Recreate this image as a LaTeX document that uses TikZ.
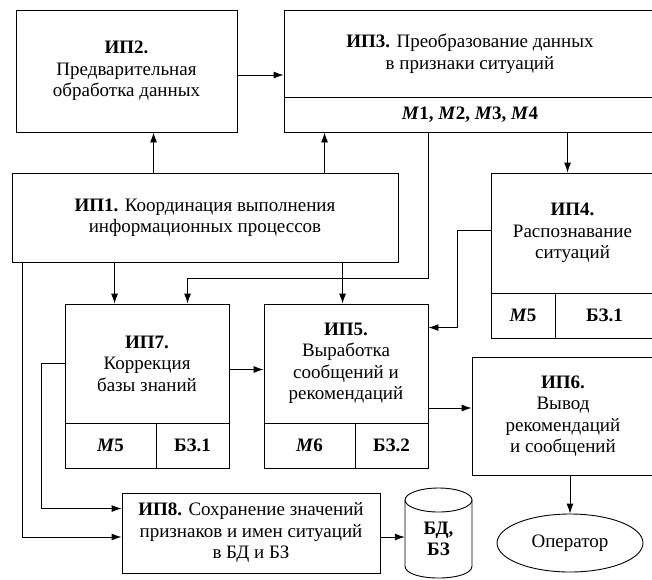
\documentclass[tikz,border=0pt]{standalone}
\usepackage{fontspec}
\setmainfont{Liberation Serif}
\usetikzlibrary{arrows.meta,shapes.geometric}

\tikzset{
  box/.style={draw, line width=0.9pt, inner sep=0pt, align=center},
  arr/.style={-{Latex[length=10pt,width=7pt]}, line width=0.9pt},
}

\begin{document}
\begin{tikzpicture}[x=1pt, y=-1pt, font=\fontsize{19pt}{21.5pt}\selectfont]

    \useasboundingbox (0,0) rectangle (652,579);
    \clip (0,0) rectangle (652,579);

    % BLOQUES SUPERIORES
    \node[box, minimum width=221, minimum height=122] (ip2) at (126.5,71)
        {\textbf{ИП2.}\\Предварительная\\обработка данных};
    \node[box, minimum width=372, minimum height=87] (ip3) at (470,53.5)
        {\textbf{ИП3.} Преобразование данных\\в признаки ситуаций};
    \node[box, minimum width=372, minimum height=35] (ip3m) at (470,114.5)
        {\textbf{\textit{M}1, \textit{M}2, \textit{M}3, \textit{M}4}};

    % COORDINACION
    \node[box, minimum width=386, minimum height=89] (ip1) at (205,217.5)
        {\textbf{ИП1.} Координация выполнения\\информационных процессов};

    % RECONOCIMIENTO
    \node[box, minimum width=163, minimum height=120] (ip4) at (572.5,233)
        {\textbf{ИП4.}\\Распознавание\\ситуаций};
    \node[box, minimum width=64, minimum height=45] (ip4m) at (523,315.5)
        {\textbf{\textit{M}5}};
    \node[box, minimum width=99, minimum height=45] (ip4b) at (604.5,315.5)
        {\textbf{БЗ.1}};

    % CORRECCION
    \node[box, minimum width=164, minimum height=119] (ip7) at (147,363.5)
        {\textbf{ИП7.}\\Коррекция\\базы знаний};
    \node[box, minimum width=91, minimum height=45] (ip7m) at (110.5,445.5)
        {\textbf{\textit{M}5}};
    \node[box, minimum width=73, minimum height=45] (ip7b) at (192.5,445.5)
        {\textbf{БЗ.1}};

    % ELABORACION
    \node[box, minimum width=164, minimum height=119] (ip5) at (346,363.5)
        {\textbf{ИП5.}\\Выработка\\сообщений и\\рекомендаций};
    \node[box, minimum width=91, minimum height=45] (ip5m) at (309.5,445.5)
        {\textbf{\textit{M}6}};
    \node[box, minimum width=73, minimum height=45] (ip5b) at (391.5,445.5)
        {\textbf{БЗ.2}};

    % SALIDA
    \node[box, minimum width=182, minimum height=118] (ip6) at (563,416)
        {\textbf{ИП6.}\\Вывод\\рекомендаций\\и сообщений};
    \node[draw, ellipse, line width=0.9pt, minimum width=146, minimum height=58] (oper) at (570,543)
        {Оператор};

    % ALMACENAMIENTO
    \node[box, minimum width=258, minimum height=80] (ip8) at (251,533)
        {\textbf{ИП8.} Сохранение значений\\признаков и имен ситуаций\\в БД и БЗ};
    \node[align=center, minimum width=67, minimum height=78, inner sep=0pt] (bd) at (438.5,539)
        {\textbf{БД,}\\\textbf{БЗ}};
    \draw[line width=0.9pt] (438.5,500) ellipse (33.5 and 12);
    \draw[line width=0.9pt] (405,500) -- (405,566)
        .. controls (405,582) and (472,582) .. (472,566) -- (472,500);

    % FLECHAS
    \draw[arr] ([yshift=-4pt]ip2.east) -- ([yshift=-4pt]ip2.east -| ip3.west);
    \draw[arr] ([xshift=142pt]ip1.north west) -- ([xshift=142pt]ip1.north west |- ip2.south);
    \draw[arr] ([xshift=313pt]ip1.north west) -- ([xshift=313pt]ip1.north west |- ip3m.south);
    \draw[arr] ([xshift=284pt]ip3m.south west) -- ([xshift=284pt]ip3m.south west |- ip4.north);
    \draw[arr] ([xshift=145pt]ip3m.south west) -- ++(0,146) -| ([xshift=123pt]ip7.north west);
    \draw[arr] ([xshift=103pt]ip1.south west) -- ([xshift=103pt]ip1.south west |- ip7.north);
    \draw[arr] ([xshift=331pt]ip1.south west) -- ([xshift=331pt]ip1.south west |- ip5.north);
    \draw[arr] ([xshift=11pt]ip1.south west) |- ([yshift=-4pt]ip8.west);
    \draw[arr] (ip7.west) -- ++(-23,0) |- ([yshift=-16pt]ip8.north west);
    \draw[arr] ([yshift=-6pt]ip7.east) -- ([yshift=-6pt]ip7.east -| ip5.west);
    \draw[arr] ([yshift=3pt]ip4.west) -- ++(-33,0) |- ([yshift=-24pt]ip5.north east);
    \draw[arr] ([yshift=8pt]ip6.west -| ip5.east) -- ([yshift=8pt]ip6.west);
    \draw[arr] (oper.north |- ip6.south) -- (oper.north);
    \draw[arr] ([yshift=-4pt]ip8.east) -- ([yshift=-4pt]ip8.east -| bd.west);

\end{tikzpicture}
\end{document}
